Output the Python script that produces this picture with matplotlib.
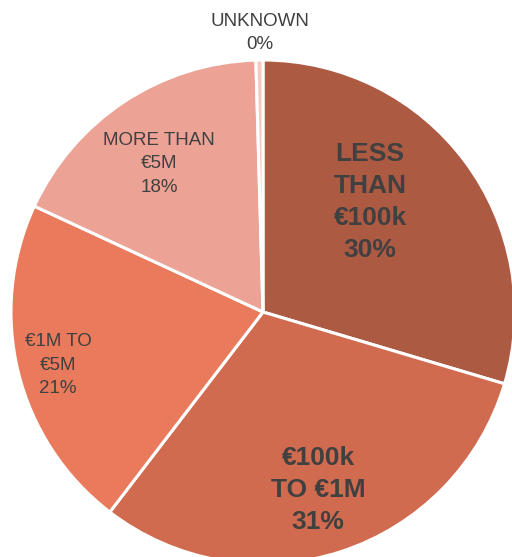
import matplotlib.pyplot as plt

categories = ['LESS\nTHAN\n€100k', '€100k\nTO €1M', '€1M TO\n€5M', 'MORE THAN\n€5M', 'UNKNOWN']
shares = [29.6, 30.8, 21.5, 17.65, 0.45]
pct_labels = ['30%', '31%', '21%', '18%', '0%']
colors = ['#ad5a43', '#d06b4f', '#e97a5c', '#eca396', '#f5c8c0']
bold = [True, True, False, False, False]
# label centres in pixel coords (x, y from top)
label_pos = [(370, 202), (318, 490), (58, 365), (159, 164), (260, 33)]

W, H = 512, 557
fig = plt.figure(figsize=(W / 100, H / 100), dpi=100)
ax = fig.add_axes([0, 0, 1, 1])

ax.pie(shares, colors=colors, startangle=90, counterclock=False,
       center=(263, H - 312), radius=252, frame=True,
       wedgeprops=dict(edgecolor='white', linewidth=2.2))
ax.set_xlim(0, W)
ax.set_ylim(0, H)
ax.set_aspect('equal')
ax.axis('off')

fam = ['Liberation Sans', 'DejaVu Sans']
for cat, pct, b, (x, y) in zip(categories, pct_labels, bold, label_pos):
    ax.text(x, H - y, cat + '\n' + pct, ha='center', va='center',
            fontsize=19 if b else 13.5, fontweight='bold' if b else 'normal',
            family=fam, color='#404040', linespacing=1.42 if b else 1.5)

fig.savefig('out.png', dpi=100)
